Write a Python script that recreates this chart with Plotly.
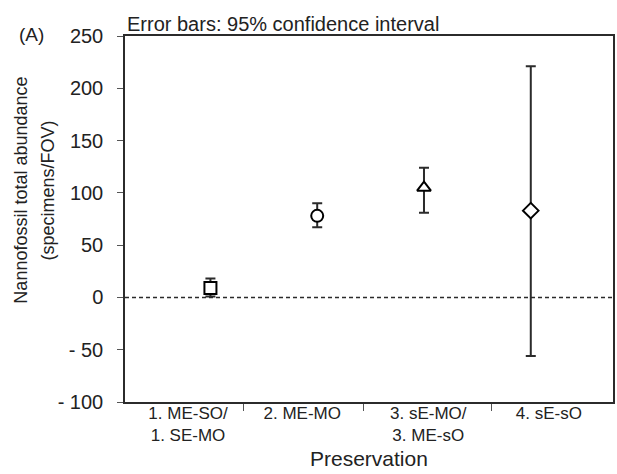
import plotly.graph_objects as go

# ---- data ----
categories = ["1. ME-SO/<br>1. SE-MO", "2. ME-MO", "3. sE-MO/<br>3. ME-sO", "4. sE-sO"]
mean_values = [9, 78, 105, 83]
ci_upper = [18, 90, 124, 221]
ci_lower = [1, 67, 81, -56]
marker_symbols = ["square", "circle", "triangle-up", "diamond"]
y_tick_values = [-100, -50, 0, 50, 100, 150, 200, 250]
y_tick_labels = ["- 100", "- 50", "0", "50", "100", "150", "200", "250"]

positions = [1, 2, 3, 4]
err_plus = [u - m for u, m in zip(ci_upper, mean_values)]
err_minus = [m - l for m, l in zip(mean_values, ci_lower)]

INK = "#2b2b2b"
FONT = "Liberation Sans, Arial, sans-serif"

fig = go.Figure()
fig.add_trace(go.Scatter(
    x=positions, y=mean_values, mode="markers",
    marker=dict(symbol=marker_symbols, size=12, color="white",
                line=dict(color="black", width=2)),
    error_y=dict(type="data", symmetric=False, array=err_plus, arrayminus=err_minus,
                 color=INK, thickness=2, width=5),
    showlegend=False, hoverinfo="skip",
))

fig.add_hline(y=0, line=dict(color=INK, width=1.5, dash="4px,3px"), layer="below")

x_range = [0.2, 4.77]
label_centres = [0.79, 1.86, 3.04, 4.17]
boundaries = [1.31, 2.43, 3.63]

fig.update_layout(
    width=617, height=474,
    margin=dict(l=125, r=2, t=36, b=72),
    paper_bgcolor="white", plot_bgcolor="white",
    font=dict(family=FONT, size=18, color="#222"),
    xaxis=dict(
        range=x_range, showgrid=False, zeroline=False,
        showline=True, linecolor=INK, linewidth=1.5, mirror=True,
        tickmode="array", tickvals=label_centres, ticktext=categories,
        ticks="", tickfont=dict(size=17), ticklabelstandoff=-5,
        minor=dict(tickmode="array", tickvals=boundaries, ticks="outside",
                   ticklen=7, tickwidth=1.2, tickcolor="#555", showgrid=False),
    ),
    yaxis=dict(
        range=[-100, 250], showgrid=False, zeroline=False,
        showline=True, linecolor=INK, linewidth=1.5, mirror=True,
        tickmode="array", tickvals=y_tick_values, ticktext=y_tick_labels,
        ticks="outside", ticklen=6, tickwidth=1.2, tickcolor="#555",
        ticklabelstandoff=10, tickfont=dict(size=20),
    ),
    annotations=[
        dict(text="Error bars: 95% confidence interval", xref="paper", yref="paper",
             x=0.0, y=1.033, xanchor="left", yanchor="middle",
             showarrow=False, font=dict(size=20)),
        dict(text="(A)", xref="paper", yref="paper", x=-0.222, y=1.003,
             xanchor="left", yanchor="middle", showarrow=False, font=dict(size=19)),
        dict(text="Nannofossil total abundance", xref="paper", yref="paper",
             x=-0.212, y=0.579, xanchor="center", yanchor="middle", textangle=-90,
             showarrow=False, font=dict(size=18)),
        dict(text="(specimens/FOV)", xref="paper", yref="paper",
             x=-0.157, y=0.579, xanchor="center", yanchor="middle", textangle=-90,
             showarrow=False, font=dict(size=18)),
        dict(text="Preservation", xref="paper", yref="paper",
             x=0.5, y=-0.1913, xanchor="center", yanchor="bottom",
             showarrow=False, font=dict(size=21)),
    ],
)

fig.write_html("out.html", config={"displayModeBar": False},
               post_script="document.body.style.margin='0';")
